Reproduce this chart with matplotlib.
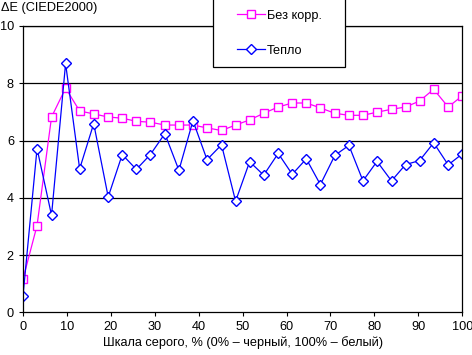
import numpy as np
import matplotlib
matplotlib.use("Agg")
import matplotlib.pyplot as plt
from matplotlib.patches import Rectangle

plt.rcParams['font.family'] = ['Liberation Sans', 'DejaVu Sans']

# grey scale steps, % (32 steps from 0 to 100)
gray_pct = [0, 3.2, 6.5, 9.7, 12.9, 16.1, 19.4, 22.6, 25.8, 29.0, 32.3, 35.5,
            38.7, 41.9, 45.2, 48.4, 51.6, 54.8, 58.1, 61.3, 64.5, 67.7, 71.0,
            74.2, 77.4, 80.6, 83.9, 87.1, 90.3, 93.5, 96.8, 100]
de_no_corr = [1.16, 3.03, 6.82, 7.83, 7.03, 6.93, 6.82, 6.78, 6.67, 6.64, 6.54,
              6.54, 6.54, 6.44, 6.35, 6.54, 6.72, 6.95, 7.17, 7.31, 7.31, 7.14,
              6.95, 6.88, 6.88, 6.99, 7.09, 7.17, 7.38, 7.79, 7.17, 7.56]
de_warm = [0.57, 5.72, 3.39, 8.69, 5.01, 6.59, 4.03, 5.51, 4.99, 5.51, 6.24,
           4.96, 6.69, 5.33, 5.85, 3.88, 5.26, 4.79, 5.55, 4.82, 5.36, 4.46,
           5.48, 5.83, 4.59, 5.27, 4.59, 5.16, 5.30, 5.92, 5.15, 5.53]
series_labels = ["Без корр.", "Тепло"]
x_ticks = list(range(0, 101, 10))
y_ticks = [0, 2, 4, 6, 8, 10]

fig = plt.figure(figsize=(4.72, 3.55), dpi=100)
ax = fig.add_axes([0.0487, 0.1203, 0.9306, 0.8065])

l1, = ax.plot(gray_pct, de_no_corr, color='#FF00FF', lw=0.9, marker='s', ms=5.2,
              mfc='white', mec='#FF00FF', mew=1.0, label=series_labels[0])
l2, = ax.plot(gray_pct, de_warm, color='#0000FF', lw=0.9, marker='D', ms=4.6,
              mfc='white', mec='#0000FF', mew=1.0, label=series_labels[1])

ax.set_xlim(0, 100)
ax.set_ylim(0, 10)
ax.set_xticks(x_ticks)
ax.set_yticks(y_ticks)
ax.tick_params(labelsize=9.2, length=3, width=0.8, direction='out', colors='black')
for yv in y_ticks[1:]:
    ax.axhline(yv, color='black', lw=0.9, zorder=0)
for s in ax.spines.values():
    s.set_linewidth(0.9)
    s.set_color('black')

ax.set_xlabel("Шкала серого, % (0% – черный, 100% – белый)", fontsize=9.2, labelpad=2)
fig.text(0.002, 0.995, "ΔE (CIEDE2000)", fontsize=9.2, va='top', ha='left')

# legend box (frame drawn separately, it runs off the top of the picture)
box = Rectangle((213 / 472, 1 - 67 / 355), 132 / 472, 67 / 355 + 0.01,
                transform=fig.transFigure, facecolor='white', edgecolor='black',
                lw=0.9, zorder=4, clip_on=False)
fig.patches.append(box)

leg = fig.legend(handles=[l1, l2], loc='center left',
                 bbox_to_anchor=(236.5 / 472, 1 - 33.3 / 355),
                 fontsize=9.2, frameon=False, handlelength=2.2, handletextpad=0.2,
                 labelspacing=1.8, borderpad=0, borderaxespad=0)
leg.set_zorder(5)

fig.savefig("out.png", dpi=100)
